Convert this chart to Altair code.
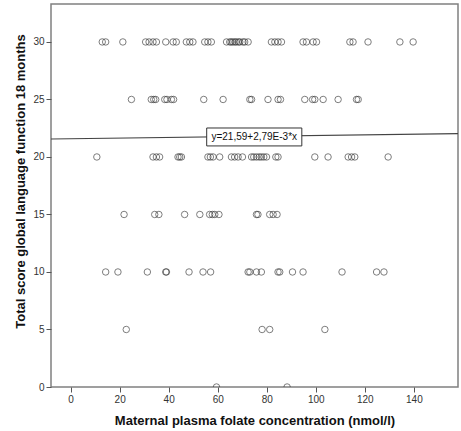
import altair as alt
import pandas as pd

# Folate values (nmol/l) read per score level
folate_30 = [12.9, 14.3, 21.3, 30.6, 32.0, 33.6, 35.0, 38.8, 41.8, 43.1, 47.2, 48.6, 49.9,
             54.7, 56.0, 57.4, 63.6, 64.9, 65.5, 66.2, 67.0, 67.6, 68.5, 69.0, 70.3, 71.0, 72.4,
             81.9, 83.3, 84.6, 86.0, 94.8, 96.2, 98.9, 100.3, 113.9, 115.2, 121.3, 134.3, 139.7]
folate_25 = [24.8, 32.9, 33.9, 34.7, 38.4, 39.3, 41.1, 42.0, 54.3, 62.2, 73.1, 73.8, 80.5,
             84.6, 85.6, 95.5, 98.7, 99.6, 103.0, 109.1, 116.6, 117.3]
folate_20 = [10.7, 33.6, 35.0, 36.3, 43.8, 44.5, 45.2, 56.0, 57.0, 58.1, 60.8, 65.6, 66.9,
             68.3, 70.1, 73.8, 74.7, 75.8, 76.9, 77.8, 78.8, 79.9, 83.7, 84.6, 99.6, 105.0,
             113.2, 114.6, 115.9, 129.5]
folate_15 = [21.8, 34.3, 36.0, 46.5, 52.7, 56.7, 57.8, 58.8, 60.5, 75.8, 76.4, 81.2, 82.6, 84.2]
folate_10 = [14.3, 19.3, 31.3, 38.8, 39.1, 48.3, 54.0, 57.1, 72.4, 73.1, 75.8, 77.8, 84.6,
             85.3, 90.5, 94.8, 110.7, 124.8, 127.8]
folate_5 = [22.7, 78.1, 81.2, 103.7]
folate_0 = [59.5, 88.3]

score_levels = [30, 25, 20, 15, 10, 5, 0]
folate_by_level = [folate_30, folate_25, folate_20, folate_15, folate_10, folate_5, folate_0]

# Fit line coefficients and label
intercept = 21.59
slope = 2.79e-3
fit_label = "y=21,59+2,79E-3*x"
x_domain = [-8, 158]
y_domain = [0, 33.3]
label_x, label_y = 74.9, 21.74
label_half_w, label_half_h = 19.4, 0.78

rows = []
for lvl, vals in zip(score_levels, folate_by_level):
    for v in vals:
        rows.append({"folate": v, "score": lvl})
pts = pd.DataFrame(rows)

line_df = pd.DataFrame({"folate": x_domain,
                        "score": [intercept + slope * x for x in x_domain]})
lab_df = pd.DataFrame({"x": [label_x], "y": [label_y],
                       "x1": [label_x - label_half_w], "x2": [label_x + label_half_w],
                       "y1": [label_y - label_half_h], "y2": [label_y + label_half_h],
                       "t": [fit_label]})

xscale = alt.Scale(domain=x_domain, nice=False, zero=False)
yscale = alt.Scale(domain=y_domain, nice=False, zero=False)

xaxis = alt.Axis(title="Maternal plasma folate concentration (nmol/l)",
                 values=[0, 20, 40, 60, 80, 100, 120, 140], grid=False, domain=False,
                 tickSize=5, tickColor="#555555", labelFontSize=10, labelColor="#333333",
                 labelPadding=2, titleFontSize=13, titleFontWeight="bold",
                 titleColor="#111111", titleX=203.5, titleY=33,
                 titleBaseline="middle", titleAlign="center")
yaxis = alt.Axis(title="Total score global language function 18 months",
                 values=[0, 5, 10, 15, 20, 25, 30], grid=False, domain=False,
                 tickSize=5, tickColor="#555555", labelFontSize=10, labelColor="#333333",
                 labelPadding=2, titleFontSize=13, titleFontWeight="bold",
                 titleColor="#111111", titleX=-31, titleY=177,
                 titleBaseline="middle", titleAlign="center")

points = alt.Chart(pts).mark_point(shape="circle", filled=False, size=42,
                                   stroke="#333333", strokeWidth=0.9, clip=True).encode(
    x=alt.X("folate:Q", scale=xscale, axis=xaxis),
    y=alt.Y("score:Q", scale=yscale, axis=yaxis),
)

fit = alt.Chart(line_df).mark_line(color="#444444", strokeWidth=1.1, clip=True).encode(
    x=alt.X("folate:Q", scale=xscale),
    y=alt.Y("score:Q", scale=yscale),
)

box = alt.Chart(lab_df).mark_rect(fill="white", stroke="#333333", strokeWidth=1).encode(
    x=alt.X("x1:Q", scale=xscale), x2="x2:Q",
    y=alt.Y("y1:Q", scale=yscale), y2="y2:Q",
)

text = alt.Chart(lab_df).mark_text(fontSize=10, color="#111111", font="Liberation Sans",
                                   align="center", baseline="middle").encode(
    x=alt.X("x:Q", scale=xscale),
    y=alt.Y("y:Q", scale=yscale),
    text="t:N",
)

chart = alt.layer(points, fit, box, text).properties(
    width=407, height=383,
    autosize=alt.AutoSizeParams(type="none"),
    padding={"left": 51, "top": 4, "right": 3, "bottom": 44},
    background="white",
).configure(font="Liberation Sans").configure_view(stroke="#808080", strokeWidth=1.5)

chart.save("out.html", embed_options={"renderer": "svg", "actions": False})
